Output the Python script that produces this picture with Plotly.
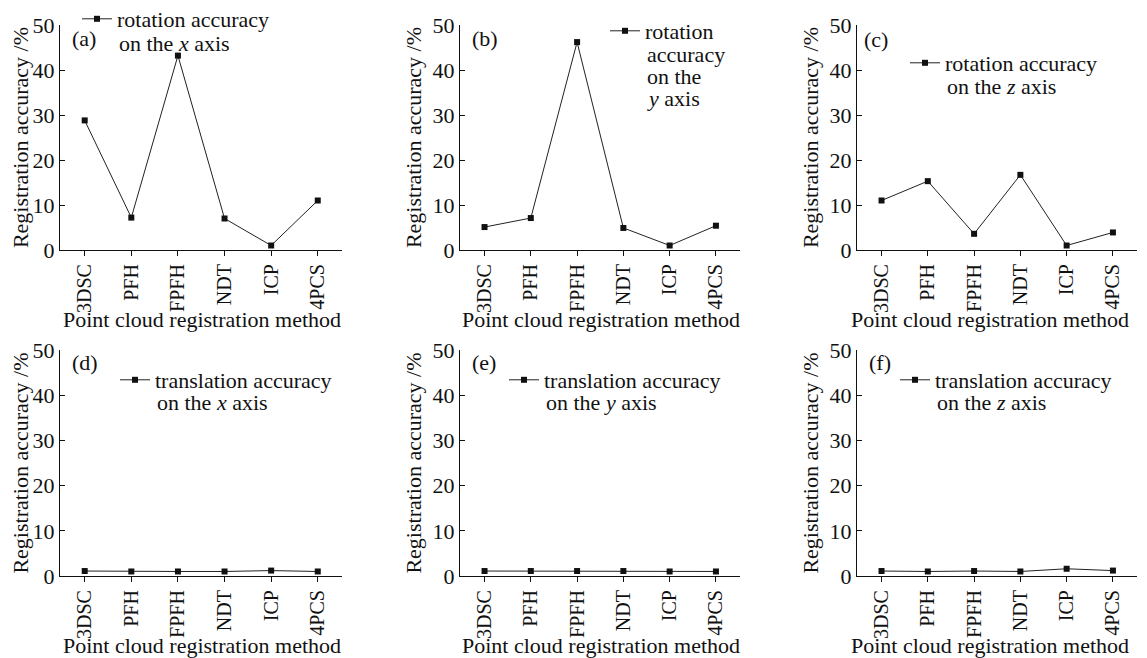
import plotly.graph_objects as go

# page body has an 8px default margin; all positions below are in screen pixels
OFF = 8
W, H = 1147 - OFF, 658 - OFF

methods = ["3DSC", "PFH", "FPFH", "NDT", "ICP", "4PCS"]
rot_x = [28.8, 7.2, 43.2, 7.0, 1.0, 11.0]
rot_y = [5.1, 7.1, 46.2, 4.9, 1.0, 5.4]
rot_z = [11.0, 15.3, 3.6, 16.7, 1.0, 3.9]
trans_x = [1.1, 1.0, 1.0, 1.0, 1.2, 1.0]
trans_y = [1.1, 1.1, 1.1, 1.1, 1.0, 1.0]
trans_z = [1.1, 1.0, 1.1, 1.0, 1.6, 1.2]
y_ticks = [0, 10, 20, 30, 40, 50]

series = [rot_x, rot_y, rot_z, trans_x, trans_y, trans_z]
legend_lines = [
    ["rotation accuracy", "on the <i>x</i> axis"],
    ["rotation", "accuracy", "on the", "<i>y</i> axis"],
    ["rotation accuracy", "on the <i>z</i> axis"],
    ["translation accuracy", "on the <i>x</i> axis"],
    ["translation accuracy", "on the <i>y</i> axis"],
    ["translation accuracy", "on the <i>z</i> axis"],
]
labels = ["(a)", "(b)", "(c)", "(d)", "(e)", "(f)"]
x_title = "Point cloud registration method"
y_title = "Registration accuracy /%"

FONT = "Liberation Serif"

cols = [(60, 342), (460, 740), (857, 1137)]
rows = [(25, 250), (350, 576)]
# legend text: left x, centre y of first line, line spacing
leg_text = [(117, 21, 23), (645, 33, 21.7), (945, 65, 21), (155, 382, 21),
            (544, 382, 21), (935, 382, 21)]
lab_pos = [(70, 38), (470, 38), (862, 40), (70, 363), (470, 363), (867, 363)]
xt_center = [202, 601, 990]
xt_offset = 69


def px(x):
    return (x - OFF) / W


def py(y):
    return 1 - (y - OFF) / H


fig = go.Figure()
layout = dict(
    width=W, height=H, margin=dict(l=0, r=0, t=0, b=0, autoexpand=False),
    paper_bgcolor="white", plot_bgcolor="white",
    font=dict(family=FONT, size=22, color="#111"),
    annotations=[],
)

for i in range(6):
    r, c = divmod(i, 3)
    xl, xr = cols[c]
    yt, yb = rows[r]
    sfx = "" if i == 0 else str(i + 1)
    leg = "legend" if i == 0 else "legend" + str(i + 1)
    fig.add_trace(go.Scatter(
        x=methods, y=series[i], mode="lines+markers", name=legend_lines[i][0],
        line=dict(color="#222", width=1),
        marker=dict(symbol="square", size=6, color="#111"),
        xaxis="x" + sfx, yaxis="y" + sfx, legend=leg, showlegend=True,
    ))
    layout["xaxis" + sfx] = dict(
        domain=[px(xl), px(xr)], anchor="y" + sfx, automargin=False,
        type="category", range=[-0.53, 5.52],
        showline=True, linecolor="#111", linewidth=1.2,
        ticks="outside", ticklen=5, tickcolor="#111",
        tickangle=-90, showgrid=False, zeroline=False,
        tickfont=dict(family=FONT, size=20),
    )
    layout["yaxis" + sfx] = dict(
        domain=[py(yb), py(yt)], anchor="x" + sfx, automargin=False,
        range=[0, 50], tickvals=y_ticks,
        showline=True, linecolor="#111", linewidth=1.2,
        ticks="inside", ticklen=5, tickcolor="#111",
        showgrid=False, zeroline=False,
        tickfont=dict(family=FONT, size=22),
        title=dict(text=y_title, font=dict(family=FONT, size=22), standoff=4),
    )
    tx, ty, dy = leg_text[i]
    layout[leg] = dict(
        x=px(tx - 40), y=py(ty - 23), xanchor="left", yanchor="top",
        bgcolor="rgba(0,0,0,0)", borderwidth=0, valign="middle",
        itemwidth=30, font=dict(family=FONT, size=22),
        tracegroupgap=0,
    )
    for k, line in enumerate(legend_lines[i][1:], start=1):
        layout["annotations"].append(dict(
            text=line, x=px(tx), y=py(ty + k * dy), xref="paper", yref="paper",
            xanchor="left", yanchor="middle", showarrow=False,
            font=dict(family=FONT, size=22),
        ))
    ax, ay = lab_pos[i]
    layout["annotations"].append(dict(
        text=labels[i], x=px(ax), y=py(ay), xref="paper", yref="paper",
        xanchor="left", yanchor="middle", showarrow=False,
        font=dict(family=FONT, size=22),
    ))
    layout["annotations"].append(dict(
        text=x_title, x=px(xt_center[c]), y=py(yb + xt_offset),
        xref="paper", yref="paper", xanchor="center", yanchor="middle",
        showarrow=False, font=dict(family=FONT, size=22),
    ))

fig.update_layout(**layout)
fig.write_html("out.html")
